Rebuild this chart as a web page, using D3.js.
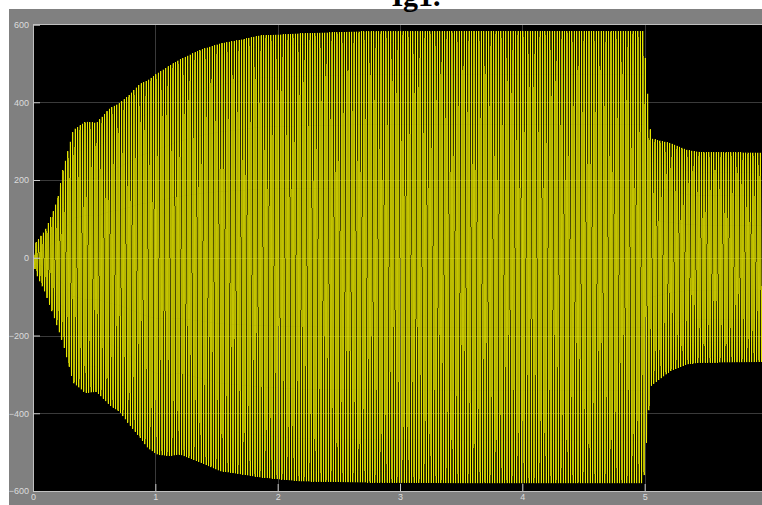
<!DOCTYPE html>
<html>
<head>
<meta charset="utf-8">
<script src="https://cdn.jsdelivr.net/npm/d3@7"></script>
<style>
    body { margin: 0; background: white; overflow: hidden; }
    svg { display: block; }
</style>
</head>
<body>
<svg id="mySvg"></svg>
<script>
// envelope of the signal (time in s, value in A)
let envTime  = [0, 0.02, 0.1, 0.16, 0.2, 0.245, 0.33, 0.43, 0.52, 0.63, 0.71, 0.79, 0.87, 0.94, 1.02, 1.12, 1.2, 1.37, 1.53, 1.7, 1.86, 2.02, 2.18, 2.67, 3.5, 4.99, 5.05, 5.21, 5.35, 5.45, 6];
let envUpper = [0, 38, 71, 115, 150, 225, 329, 350, 347, 385, 398, 420, 446, 457, 475, 495, 510, 535, 551, 561, 572, 574, 577, 582, 583, 583, 307, 295, 277, 272, 270];
let envLower = [0, -38, -90, -142, -178, -220, -322, -348, -345, -380, -397, -430, -461, -490, -507, -510, -506, -527, -549, -557, -565, -570, -575, -578, -580, -580, -330, -292, -274, -270, -268];

let freq = 50;   // Hz, counted from the picture
let samplesPerCycle = 20;

let xTicks = d3.range(0, 6);
let yTicks = d3.range(-600, 601, 200);

let svgWidth = 762;
let svgHeight = 505;

let plot = { left: 33, top: 24.5, bottom: 491, right: 767 };

let svg = d3.select("#mySvg")
    .attr("width", svgWidth)
    .attr("height", svgHeight)

let xScale = d3.scaleLinear()
    .domain([0, 6])
    .range([plot.left, plot.right])

let yScale = d3.scaleLinear()
    .domain([-600, 600])
    .range([plot.bottom, plot.top])

let upperAt = d3.scaleLinear().domain(envTime).range(envUpper).clamp(true)
let lowerAt = d3.scaleLinear().domain(envTime).range(envLower).clamp(true)

// gray scope panel
svg.append("rect")
    .attr("x", 9)
    .attr("y", 9)
    .attr("width", svgWidth - 9)
    .attr("height", svgHeight - 9)
    .attr("fill", "#808080")

svg.append("rect")
    .attr("x", plot.left)
    .attr("y", plot.top)
    .attr("width", plot.right - plot.left)
    .attr("height", plot.bottom - plot.top)
    .attr("fill", "black")

// grid
svg.append("g")
    .selectAll("line")
    .data(xTicks.slice(1))
    .enter()
    .append("line")
    .attr("x1", d => Math.round(xScale(d)) + 0.5)
    .attr("x2", d => Math.round(xScale(d)) + 0.5)
    .attr("y1", plot.top)
    .attr("y2", plot.bottom)
    .attr("stroke", "#3a3a3a")

svg.append("g")
    .selectAll("line")
    .data(yTicks.slice(1, -1))
    .enter()
    .append("line")
    .attr("x1", plot.left)
    .attr("x2", plot.right)
    .attr("y1", d => Math.round(yScale(d)) + 0.5)
    .attr("y2", d => Math.round(yScale(d)) + 0.5)
    .attr("stroke", "#3a3a3a")

// the signal
let nPts = 6 * freq * samplesPerCycle;
let pts = d3.range(nPts + 1).map(function (i) {
    let t = i / (freq * samplesPerCycle);
    let s = Math.sin(2 * Math.PI * freq * t);
    let amp = s >= 0 ? upperAt(t) : -lowerAt(t);
    return [t, s * amp];
})

let line = d3.line()
    .x(d => xScale(d[0]))
    .y(d => yScale(d[1]))

svg.append("clipPath")
    .attr("id", "clip")
    .append("rect")
    .attr("x", plot.left)
    .attr("y", plot.top)
    .attr("width", plot.right - plot.left)
    .attr("height", plot.bottom - plot.top)

// faint anti-aliased layer plus a crisp layer, like the scope's screenshot
svg.append("path")
    .datum(pts)
    .attr("clip-path", "url(#clip)")
    .attr("d", line)
    .attr("fill", "none")
    .attr("stroke", "#ffff00")
    .attr("stroke-width", 0.5)

svg.append("path")
    .datum(pts)
    .attr("clip-path", "url(#clip)")
    .attr("d", line)
    .attr("fill", "none")
    .attr("stroke", "#f4f400")
    .attr("stroke-width", 0.6)
    .attr("shape-rendering", "crispEdges")

// axes
let xAxis = d3.axisBottom(xScale)
    .tickValues(xTicks)
    .tickFormat(d3.format("d"))
    .tickSize(-7)
    .tickPadding(3)

let yAxis = d3.axisLeft(yScale)
    .tickValues(yTicks)
    .tickFormat(d3.format("d"))
    .tickSize(-7)
    .tickPadding(4)

svg.append("g")
    .attr("transform", "translate(0," + plot.bottom + ")")
    .call(xAxis)

svg.append("g")
    .attr("transform", "translate(" + plot.left + ",0)")
    .call(yAxis)

svg.append("line")
    .attr("x1", plot.left)
    .attr("x2", plot.right)
    .attr("y1", plot.top)
    .attr("y2", plot.top)
    .attr("stroke", "#c0c0c0")

svg.selectAll(".domain").attr("stroke", "#c0c0c0")
svg.selectAll(".tick line").attr("stroke", "#c8c8c8")
svg.selectAll(".tick text")
    .attr("fill", "#dcdcdc")
    .attr("font-family", "Arial, 'Liberation Sans', sans-serif")
    .attr("font-size", 9)

// title, cut off by the top of the window
svg.append("text")
    .attr("x", 416)
    .attr("y", 6)
    .attr("text-anchor", "middle")
    .attr("font-family", "'Times New Roman', 'Liberation Serif', serif")
    .attr("font-weight", "bold")
    .attr("font-size", 30)
    .attr("fill", "black")
    .text("Ig1.")
</script>
</body>
</html>
